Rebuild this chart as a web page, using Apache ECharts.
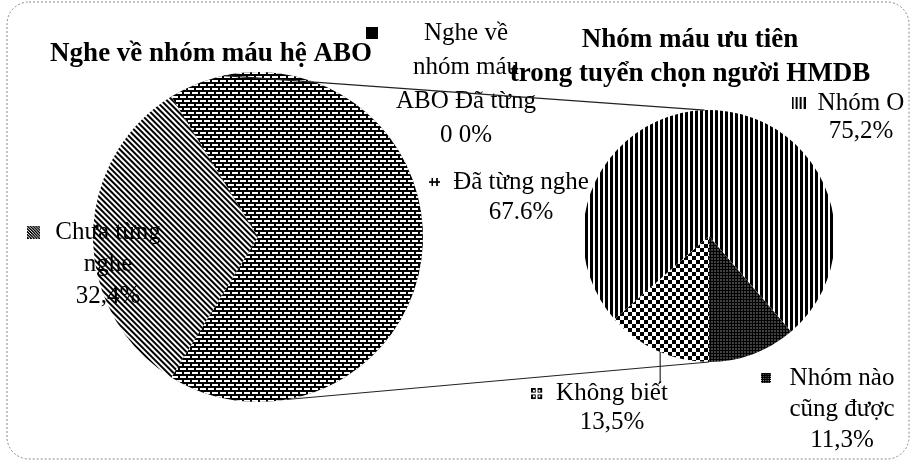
<!DOCTYPE html>
<html>
<head>
<meta charset="utf-8">
<title>Nghe về nhóm máu hệ ABO</title>
<script src="https://cdn.jsdelivr.net/npm/echarts@6/dist/echarts.min.js"></script>
<style>
  html, body { margin: 0; padding: 0; background: #fff; }
  #chart { width: 915px; height: 465px; }
</style>
</head>
<body>
<div id="chart"></div>
<script>
// pie 1 - Nghe về nhóm máu hệ ABO
const aboNames = ['Chưa từng nghe', 'Đã từng nghe', 'Nghe về nhóm máu ABO Đã từng'];
const aboValues = [32.4, 67.6, 0];
const aboLabelNames = ['Chưa từng\nnghe', 'Đã từng nghe', 'Nghe về\nnhóm máu\nABO Đã từng'];
const aboPercentText = ['32,4%', '67.6%', '0 0%'];

// pie 2 - Nhóm máu ưu tiên trong tuyển chọn người HMDB
const groupNames = ['Nhóm nào cũng được', 'Không biết', 'Nhóm O'];
const groupValues = [11.3, 13.5, 75.2];
const groupLabelNames = ['Nhóm nào\ncũng được', 'Không biết', 'Nhóm O'];
const groupPercentText = ['11,3%', '13,5%', '75,2%'];

const titleLeft = 'Nghe về nhóm máu hệ ABO';
const titleRight = 'Nhóm máu ưu tiên\ntrong tuyển chọn người HMDB';

// ---- layout / style ----
const FONT = 'Liberation Serif';
const bigPie = { cx: 258, cy: 237, r: 165 };
const smallPie = { cx: 709, cy: 236, r: 126 };

// label box centre, line height, key size and gap between key and text
const aboLabelPos = [
  { x: 108, y: 264, lh: 32, key: 13, gap: 15 },
  { x: 521, y: 197, lh: 30, key: 11, gap: 13 },
  { x: 466, y: 84, lh: 34, key: 12, gap: 46 }
];
const groupLabelPos = [
  { x: 842, y: 409, lh: 31, key: 10, gap: 19 },
  { x: 612, y: 408, lh: 29, key: 13, gap: 13 },
  { x: 861, y: 117, lh: 28, key: 14, gap: 12 }
];

// hatch patterns (scanned black & white chart)
const hatch = {
  diag:   { color: '#fff', decal: { symbol: 'rect', symbolSize: 1, color: '#000', dashArrayX: [1, 0], dashArrayY: [2, 1.5], rotation: Math.PI / 4 } },
  brick:  { color: '#000', decal: { symbol: 'rect', symbolSize: 1, color: '#fff', dashArrayX: [[6, 2], [2, 2, 4, 0]], dashArrayY: [2, 2] } },
  none:   { color: '#000' },
  vline:  { color: '#fff', decal: { symbol: 'rect', symbolSize: 1, color: '#000', dashArrayX: [3, 2], dashArrayY: [1, 0] } },
  check:  { color: '#fff', decal: { symbol: 'rect', symbolSize: 1, color: '#000', dashArrayX: [[4, 4], [0, 4, 4, 0]], dashArrayY: [4, 0] } },
  dots:   { color: '#000', decal: { symbol: 'rect', symbolSize: 0.5, color: '#fff', dashArrayX: [2, 1], dashArrayY: [2, 1] } }
};
const aboHatch = ['diag', 'brick', 'none'];
const groupHatch = ['dots', 'check', 'vline'];

// little legend keys drawn in front of the labels
function keyCanvas(draw) {
  const c = document.createElement('canvas');
  c.width = 14; c.height = 14;
  const g = c.getContext('2d');
  g.fillStyle = '#000';
  draw(g);
  return c;
}
const keys = {
  diag: keyCanvas(g => {
    g.fillRect(0, 0, 14, 14);
    g.strokeStyle = '#fff'; g.lineWidth = 1;
    for (let i = -14; i < 14; i += 3) { g.beginPath(); g.moveTo(i, 0); g.lineTo(i + 14, 14); g.stroke(); }
  }),
  brick: keyCanvas(g => {
    g.fillRect(0, 6, 14, 2); g.fillRect(3, 2, 2, 10); g.fillRect(9, 2, 2, 10);
  }),
  none: keyCanvas(g => { g.fillRect(0, 0, 14, 14); }),
  vline: keyCanvas(g => { for (let i = 0; i < 14; i += 4) g.fillRect(i, 1, 2, 12); }),
  check: keyCanvas(g => {
    g.fillRect(1, 1, 5, 5); g.fillRect(8, 1, 5, 5); g.fillRect(1, 8, 5, 5); g.fillRect(8, 8, 5, 5);
    g.fillStyle = '#fff'; g.fillRect(3, 3, 2, 2); g.fillRect(9, 3, 2, 2); g.fillRect(3, 9, 2, 2); g.fillRect(9, 9, 2, 2);
  }),
  dots: keyCanvas(g => {
    g.fillRect(0, 0, 14, 14); g.fillStyle = '#fff';
    for (let i = 1; i < 14; i += 3) for (let j = 1; j < 14; j += 3) g.fillRect(i, j, 1, 1);
  })
};

function buildData(names, values, labelNames, percents, hatchNames, pos) {
  return names.map((name, i) => {
    const lines = labelNames[i].split('\n');
    const p = pos[i];
    const h = hatch[hatchNames[i]];
    // key + gap before the first line, the same blank space after it so the text stays centred
    const text = '{k|}{g|}' + lines[0] + '{g|}{k0|}' +
      (lines.length > 1 ? '\n' + lines.slice(1).join('\n') : '') + '\n' + percents[i];
    return {
      name: name,
      value: values[i],
      itemStyle: { color: h.color, decal: h.decal || null, borderWidth: 0 },
      label: {
        formatter: text,
        lineHeight: p.lh,
        rich: {
          k: { width: p.key, height: p.key, backgroundColor: { image: keys[hatchNames[i]] } },
          k0: { width: p.key, height: p.key },
          g: { width: p.gap }
        }
      }
    };
  });
}

const labelBase = {
  show: true,
  position: 'outside',
  fontFamily: FONT,
  fontSize: 25,
  color: '#000',
  align: 'center'
};

function fixedLabels(pos, leaderIndex) {
  return function (params) {
    const p = pos[params.dataIndex];
    const res = { x: p.x, y: p.y, align: 'center', verticalAlign: 'middle' };
    if (params.labelLinePoints && params.dataIndex === leaderIndex) {
      const a = params.labelLinePoints[0];
      const top = p.y - p.lh + 4;
      res.labelLinePoints = [[a[0] + 3, a[1] - 6], [a[0] + 3, (a[1] + top) / 2], [a[0] + 3, top]];
    }
    return res;
  };
}

// connector lines between the two pies
function onCircle(pie, deg) {
  const rad = deg * Math.PI / 180;
  return [pie.cx + pie.r * Math.cos(rad), pie.cy - pie.r * Math.sin(rad)];
}
const topA = onCircle(bigPie, 102), topB = onCircle(smallPie, 92);
const botA = onCircle(bigPie, -80), botB = onCircle(smallPie, -90);

const titleStyle = { fontFamily: FONT, fontWeight: 'bold', fontSize: 27, color: '#000', lineHeight: 34 };

const option = {
  backgroundColor: '#fff',
  animation: false,
  title: [
    { text: titleLeft, left: 211, top: 37, textAlign: 'center', padding: 0, textStyle: titleStyle },
    { text: titleRight, left: 690, top: 23, textAlign: 'center', padding: 0, textStyle: titleStyle }
  ],
  graphic: [
    { type: 'rect', silent: true, z: -10, shape: { x: 7, y: 2, width: 902, height: 457, r: 22 },
      style: { fill: 'none', stroke: '#888', lineWidth: 1, lineDash: [2, 2] } },
    { type: 'line', silent: true, z: 100, shape: { x1: topA[0], y1: topA[1], x2: topB[0], y2: topB[1] },
      style: { stroke: '#222', lineWidth: 1.2 } },
    { type: 'line', silent: true, z: 100, shape: { x1: botA[0], y1: botA[1], x2: botB[0], y2: botB[1] },
      style: { stroke: '#222', lineWidth: 1.2 } }
  ],
  series: [
    {
      type: 'pie',
      center: [bigPie.cx, bigPie.cy],
      radius: bigPie.r,
      startAngle: 180 + aboValues[0] * 3.6 / 2,
      clockwise: true,
      avoidLabelOverlap: false,
      label: labelBase,
      labelLine: { show: false },
      labelLayout: fixedLabels(aboLabelPos, -1),
      emphasis: { disabled: true },
      data: buildData(aboNames, aboValues, aboLabelNames, aboPercentText, aboHatch, aboLabelPos)
    },
    {
      type: 'pie',
      center: [smallPie.cx, smallPie.cy],
      radius: smallPie.r,
      startAngle: -90 + groupValues[0] * 3.6,
      clockwise: true,
      avoidLabelOverlap: false,
      label: labelBase,
      labelLine: { show: false },
      labelLayout: fixedLabels(groupLabelPos, 1),
      emphasis: { disabled: true },
      data: buildData(groupNames, groupValues, groupLabelNames, groupPercentText, groupHatch, groupLabelPos)
        .map((d, i) => i === 1 ? Object.assign(d, { labelLine: { show: true, length: 0, length2: 0, lineStyle: { color: '#000', width: 1 } } }) : d)
    }
  ]
};

const chart = echarts.init(document.getElementById('chart'));
chart.setOption(option);
</script>
</body>
</html>
